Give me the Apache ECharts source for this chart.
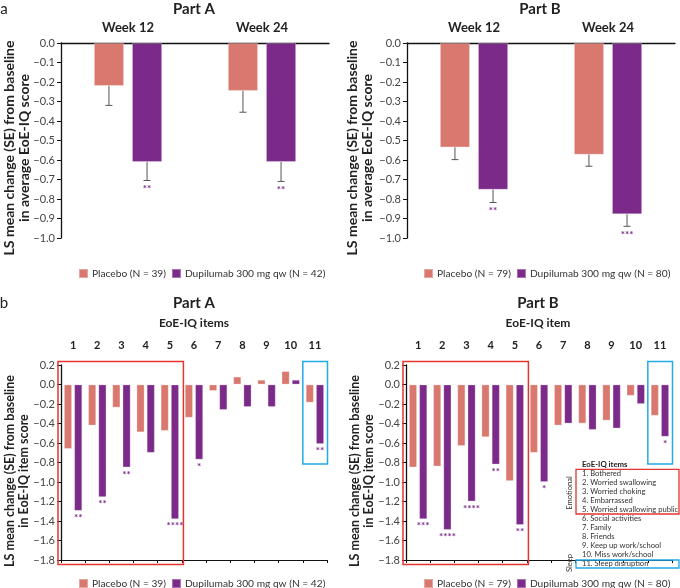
<!DOCTYPE html>
<html>
<head>
<meta charset="utf-8">
<script src="https://cdn.jsdelivr.net/npm/echarts@6/dist/echarts.min.js"></script>
<style>html,body{margin:0;padding:0;background:#fff}#c{width:680px;height:588px}</style>
</head>
<body>
<div id="c"></div>
<script>
// ---------- data ----------
const weeks = ['Week 12', 'Week 24'];
const namesA = ['Placebo (N = 39)', 'Dupilumab 300 mg qw (N = 42)'];
const namesB = ['Placebo (N = 79)', 'Dupilumab 300 mg qw (N = 80)'];

const aA_placebo = [-0.22, -0.245];
const aA_placeboLow = [-0.32, -0.355];
const aA_dupi = [-0.61, -0.61];
const aA_dupiLow = [-0.705, -0.71];
const aA_sig = ['**', '**'];

const aB_placebo = [-0.535, -0.572];
const aB_placeboLow = [-0.598, -0.632];
const aB_dupi = [-0.752, -0.878];
const aB_dupiLow = [-0.818, -0.94];
const aB_sig = ['**', '***'];

const items = ['1', '2', '3', '4', '5', '6', '7', '8', '9', '10', '11'];
const bA_placebo = [-0.66, -0.42, -0.236, -0.49, -0.475, -0.34, -0.065, 0.08, 0.048, 0.137, -0.185];
const bA_dupi = [-1.295, -1.155, -0.85, -0.70, -1.38, -0.77, -0.26, -0.23, -0.23, 0.048, -0.61];
const bA_sig = ['**', '**', '**', '', '****', '*', '', '', '', '', '**'];
const bB_placebo = [-0.85, -0.84, -0.63, -0.54, -0.99, -0.70, -0.42, -0.40, -0.37, -0.115, -0.32];
const bB_dupi = [-1.38, -1.49, -1.20, -0.82, -1.44, -1.00, -0.40, -0.465, -0.45, -0.20, -0.535];
const bB_sig = ['***', '****', '****', '**', '**', '*', '', '', '', '', '*'];

const itemLegend = ['1. Bothered', '2. Worried swallowing', '3. Worried choking', '4. Embarrassed',
  '5. Worried swallowing public', '6. Social activities', '7. Family', '8. Friends',
  '9. Keep up work/school', '10. Miss work/school', '11. Sleep disruption'];

const yNameA = 'LS mean change (SE) from baseline\nin average EoE-IQ score';
const yNameB = 'LS mean change (SE) from baseline\nin EoE-IQ item score';

const ticksA = { min: -1.0, max: 0.0, interval: 0.1 };
const ticksB = { min: -1.8, max: 0.2, interval: 0.2 };

// ---------- style ----------
const FONT = 'Lato';
const C_PLA = '#D9786F';
const C_DUP = '#7B2A8A';
const C_ERR = '#555555';
const fmt = v => (Math.abs(v) < 1e-9 ? '0.0' : (v < 0 ? '\u2212' : '') + Math.abs(v).toFixed(1));

const BW_A = 30, GAP_A = 0.27;
const BW_B = 8, GAP_B = 0.28;
const offA = BW_A * (1 + GAP_A) / 2;
const offB = BW_B * (1 + GAP_B) / 2;

const chart = echarts.init(document.getElementById('c'), null, { renderer: 'canvas' });

function yAxis(grid, t) {
  return {
    type: 'value', gridIndex: grid, min: t.min, max: t.max, interval: t.interval,
    axisLine: { show: true, lineStyle: { color: '#111', width: 1.3 } },
    axisTick: { show: true, length: 4, lineStyle: { color: '#111' } },
    axisLabel: { formatter: fmt, fontFamily: FONT, fontSize: 11, color: '#444', margin: 6 },
    splitLine: { show: false }
  };
}

function errSeries(xi, yi, vals, lows, offset, sig) {
  return {
    type: 'custom', xAxisIndex: xi, yAxisIndex: yi, z: 5,
    data: vals.map((v, i) => [i, v, lows[i]]),
    renderItem: function (params, api) {
      const i = api.value(0);
      const p1 = api.coord([i, api.value(1)]);
      const p2 = api.coord([i, api.value(2)]);
      const x = p1[0] + offset;
      const ch = [
        { type: 'line', shape: { x1: x, y1: p1[1], x2: x, y2: p2[1] }, style: { stroke: C_ERR, lineWidth: 1 } },
        { type: 'line', shape: { x1: x - 3.5, y1: p2[1], x2: x + 3.5, y2: p2[1] }, style: { stroke: C_ERR, lineWidth: 1 } }
      ];
      const s = sig ? sig[params.dataIndex] : '';
      if (s) ch.push({ type: 'text', style: { text: s, x: x, y: p2[1] + 3, align: 'center', verticalAlign: 'top', fill: C_DUP, font: 'bold 10px ' + FONT } });
      return { type: 'group', children: ch };
    }
  };
}

function sigSeries(xi, yi, vals, offset, sig) {
  return {
    type: 'custom', xAxisIndex: xi, yAxisIndex: yi, z: 5,
    data: vals.map((v, i) => [i, v]),
    renderItem: function (params, api) {
      const s = sig[params.dataIndex];
      if (!s) return null;
      const p = api.coord([api.value(0), api.value(1)]);
      return { type: 'text', style: { text: s, x: p[0] + offset, y: p[1] + 2, align: 'center', verticalAlign: 'top', fill: C_DUP, font: 'bold 10px ' + FONT } };
    }
  };
}

function bar(name, xi, yi, data, color, bw, gap) {
  return {
    name: name, type: 'bar', xAxisIndex: xi, yAxisIndex: yi, data: data,
    barWidth: bw, barGap: (gap * 100) + '%',
    itemStyle: { color: color, borderColor: 'rgba(255,255,255,0.35)', borderWidth: 0.8 }
  };
}

function legend(names, left, top) {
  return {
    data: names, left: left, top: top, width: 300, padding: 0, icon: 'rect', itemWidth: 9, itemHeight: 9, itemGap: 5,
    selectedMode: false,
    textStyle: { fontFamily: FONT, fontSize: 10.2, color: '#333', padding: [0, 0, 0, -1] }
  };
}

const option = {
  animation: false,
  color: [C_PLA, C_DUP],
  grid: [
    { left: 61, top: 43, width: 268, height: 195 },
    { left: 407, top: 43, width: 268, height: 195 },
    { left: 61, top: 365, width: 266, height: 195 },
    { left: 406, top: 365, width: 266, height: 195 }
  ],
  xAxis: [
    { type: 'category', gridIndex: 0, data: weeks, position: 'top',
      axisLine: { lineStyle: { color: '#111', width: 1.3 } }, axisTick: { show: false },
      axisLabel: { fontFamily: FONT, fontWeight: 'bold', fontSize: 13, color: '#222', margin: 9 } },
    { type: 'category', gridIndex: 1, data: weeks, position: 'top',
      axisLine: { lineStyle: { color: '#111', width: 1.3 } }, axisTick: { show: false },
      axisLabel: { fontFamily: FONT, fontWeight: 'bold', fontSize: 13, color: '#222', margin: 9 } },
    { type: 'category', gridIndex: 2, data: items, position: 'top',
      axisLine: { show: false }, axisTick: { show: false },
      axisLabel: { fontFamily: FONT, fontWeight: 'bold', fontSize: 11, color: '#222', margin: 14 } },
    { type: 'category', gridIndex: 3, data: items, position: 'top',
      axisLine: { show: false }, axisTick: { show: false },
      axisLabel: { fontFamily: FONT, fontWeight: 'bold', fontSize: 11, color: '#222', margin: 14 } },
    { type: 'category', gridIndex: 2, data: items, position: 'bottom',
      axisLine: { onZero: true, lineStyle: { color: '#111', width: 1 } },
      axisTick: { show: true, length: 3, lineStyle: { color: '#111' } }, axisLabel: { show: false } },
    { type: 'category', gridIndex: 3, data: items, position: 'bottom',
      axisLine: { onZero: true, lineStyle: { color: '#111', width: 1 } },
      axisTick: { show: true, length: 3, lineStyle: { color: '#111' } }, axisLabel: { show: false } }
  ],
  yAxis: [yAxis(0, ticksA), yAxis(1, ticksA), yAxis(2, ticksB), yAxis(3, ticksB)],
  legend: [
    legend(namesA, 78, 268),
    legend(namesB, 423, 268),
    legend(namesA, 78, 578),
    legend(namesB, 423, 578)
  ],
  series: [
    bar(namesA[0], 0, 0, aA_placebo, C_PLA, BW_A, GAP_A),
    bar(namesA[1], 0, 0, aA_dupi, C_DUP, BW_A, GAP_A),
    bar(namesB[0], 1, 1, aB_placebo, C_PLA, BW_A, GAP_A),
    bar(namesB[1], 1, 1, aB_dupi, C_DUP, BW_A, GAP_A),
    bar(namesA[0], 2, 2, bA_placebo, C_PLA, BW_B, GAP_B),
    bar(namesA[1], 2, 2, bA_dupi, C_DUP, BW_B, GAP_B),
    bar(namesB[0], 3, 3, bB_placebo, C_PLA, BW_B, GAP_B),
    bar(namesB[1], 3, 3, bB_dupi, C_DUP, BW_B, GAP_B),
    errSeries(0, 0, aA_placebo, aA_placeboLow, -offA, null),
    errSeries(0, 0, aA_dupi, aA_dupiLow, offA, aA_sig),
    errSeries(1, 1, aB_placebo, aB_placeboLow, -offA, null),
    errSeries(1, 1, aB_dupi, aB_dupiLow, offA, aB_sig),
    sigSeries(2, 2, bA_dupi, offB, bA_sig),
    sigSeries(3, 3, bB_dupi, offB, bB_sig)
  ]
};
chart.setOption(option);

// ---------- annotations (computed from the axes) ----------
function boxes(seriesIndex, redTo, blueFrom, padL) {
  const p = (c, v) => chart.convertToPixel({ seriesIndex: seriesIndex }, [c, v]);
  const cw = p(1, 0)[0] - p(0, 0)[0];
  const xLeft = p(0, 0)[0] - cw / 2;
  const xRed = (p(redTo, 0)[0] + p(redTo + 1, 0)[0]) / 2;
  const xBlue = (p(blueFrom - 1, 0)[0] + p(blueFrom, 0)[0]) / 2;
  const xRight = p(items.length - 1, 0)[0] + cw / 2;
  const yTop = p(0, ticksB.max)[1] - 3.5;
  const yBot = p(0, ticksB.min)[1] + 4.5;
  const yBlueBot = p(0, -0.8)[1] + 1.5;
  return [
    { type: 'rect', shape: { x: xLeft - padL, y: yTop, width: xRed + 1.5 - (xLeft - padL), height: yBot - yTop },
      style: { fill: 'none', stroke: '#E3342F', lineWidth: 1.5 }, z: 10 },
    { type: 'rect', shape: { x: xBlue, y: yTop, width: xRight + 0.5 - xBlue, height: yBlueBot - yTop },
      style: { fill: 'none', stroke: '#22AAE6', lineWidth: 1.5 }, z: 10 }
  ];
}

const txt = (text, x, y, font, extra, fill) => Object.assign({
  type: 'text', x: x, y: y, z: 20,
  style: { text: text, font: font, fill: fill || '#222', align: 'center', verticalAlign: 'middle' }
}, extra || {});

const yName = (text, x, y, size, lh) => {
  const g = txt(text, x, y, 'bold ' + size + 'px ' + FONT, { rotation: Math.PI / 2 });
  g.style.lineHeight = lh;
  return g;
};

const graphics = [
  txt('a', 4, 9, '15px ' + FONT),
  txt('b', 4, 303, '15px ' + FONT),
  txt('Part A', 194, 9, 'bold 15px ' + FONT),
  txt('Part B', 540, 9, 'bold 15px ' + FONT),
  txt('Part A', 194, 303, 'bold 15px ' + FONT),
  txt('Part B', 538, 303, 'bold 15px ' + FONT),
  txt('EoE-IQ items', 194, 323, 'bold 12px ' + FONT),
  txt('EoE-IQ item', 538, 323, 'bold 12px ' + FONT),
  yName(yNameA, 16.5, 148, 14, 15),
  yName(yNameA, 359.5, 148, 14, 15),
  yName(yNameB, 16.5, 471, 12.5, 14),
  yName(yNameB, 361.5, 471, 12.5, 14)
].concat(boxes(5, 4, 10, 3), boxes(7, 4, 10, 3));

// item legend box
const head = txt('EoE-IQ items', 582, 464, 'bold 7.8px ' + FONT);
head.style.align = 'left';
graphics.push(head);
itemLegend.forEach((t, i) => {
  const g = txt(t, 582, 473.7 + i * 9.03, '7.6px ' + FONT, null, '#333');
  g.style.align = 'left';
  graphics.push(g);
});
graphics.push({ type: 'rect', z: 20, shape: { x: 576, y: 469.3, width: 103, height: 44.7 }, style: { fill: 'none', stroke: '#E3342F', lineWidth: 1.3 } });
graphics.push({ type: 'rect', z: 20, shape: { x: 576, y: 560, width: 103, height: 8 }, style: { fill: 'none', stroke: '#22AAE6', lineWidth: 1.3 } });
graphics.push(txt('Emotional', 570, 493, '7.6px ' + FONT, { rotation: Math.PI / 2 }, '#333'));
graphics.push(txt('Sleep', 570, 563, '7.6px ' + FONT, { rotation: Math.PI / 2 }, '#333'));

chart.setOption({ graphic: graphics });
</script>
</body>
</html>
